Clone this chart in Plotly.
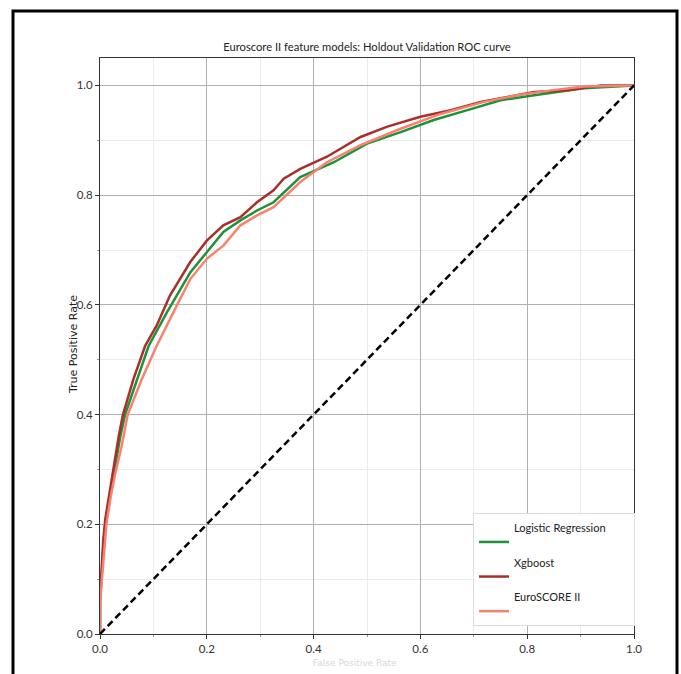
import plotly.graph_objects as go

# ---- data ----
lr_fpr = [0.0, 0.0, 0.002, 0.007, 0.011, 0.02, 0.027, 0.038, 0.047, 0.069, 0.091, 0.125, 0.169, 0.2, 0.231, 0.263,
          0.294, 0.325, 0.375, 0.438, 0.5, 0.563, 0.625, 0.688, 0.75, 0.813, 0.906, 1.0]
lr_tpr = [0.0, 0.06, 0.09, 0.17, 0.21, 0.26, 0.3, 0.36, 0.4, 0.464, 0.525, 0.586, 0.659, 0.696, 0.733, 0.754,
          0.772, 0.787, 0.833, 0.86, 0.894, 0.915, 0.937, 0.955, 0.973, 0.982, 0.995, 1.0]

xgb_fpr = [0.0, 0.0, 0.002, 0.006, 0.01, 0.018, 0.025, 0.035, 0.043, 0.0625, 0.0844, 0.106, 0.131, 0.169, 0.2, 0.231,
           0.263, 0.294, 0.325, 0.344, 0.375, 0.425, 0.488, 0.538, 0.6, 0.657, 0.713, 0.763, 0.813, 0.875, 0.938, 1.0]
xgb_tpr = [0.0, 0.07, 0.1, 0.17, 0.21, 0.26, 0.3, 0.36, 0.4, 0.464, 0.525, 0.562, 0.617, 0.678, 0.717, 0.745,
           0.76, 0.787, 0.809, 0.83, 0.848, 0.87, 0.906, 0.925, 0.943, 0.955, 0.97, 0.979, 0.988, 0.991, 1.0, 1.0]

es_fpr = [0.0, 0.0, 0.002, 0.008, 0.012, 0.02, 0.028, 0.04, 0.052, 0.078, 0.106, 0.144, 0.169, 0.2, 0.231, 0.263,
          0.294, 0.325, 0.375, 0.425, 0.488, 0.563, 0.638, 0.719, 0.781, 0.844, 0.906, 1.0]
es_tpr = [0.0, 0.05, 0.08, 0.16, 0.2, 0.25, 0.29, 0.34, 0.4, 0.464, 0.525, 0.599, 0.647, 0.684, 0.708, 0.745,
          0.763, 0.778, 0.824, 0.86, 0.891, 0.921, 0.948, 0.97, 0.982, 0.991, 0.998, 1.0]

diag = [0.0, 1.0]

series_names = ["Logistic Regression", "Xgboost", "EuroSCORE II"]
ticks = [0.0, 0.2, 0.4, 0.6, 0.8, 1.0]
tick_text = ["0.0", "0.2", "0.4", "0.6", "0.8", "1.0"]

COND = "Lato, Roboto, Liberation Sans, sans-serif"
NB = "\u00a0"
pads = [6, 24, 17]

fig = go.Figure()
colors = ["#1f9138", "#a8302b", "#f7826f"]
for i, (fx, ty) in enumerate([(lr_fpr, lr_tpr), (xgb_fpr, xgb_tpr), (es_fpr, es_tpr)]):
    fig.add_trace(go.Scatter(x=fx, y=ty, mode="lines", name=series_names[i] + NB * pads[i] + "<br> ",
                             legendgroup=str(i),
                             line=dict(color=colors[i], width=2.5)))
fig.add_trace(go.Scatter(x=diag, y=diag, mode="lines", showlegend=False,
                         line=dict(color="black", width=2.5, dash="7px,4px")))

axis_common = dict(
    tickvals=ticks, ticktext=tick_text, ticks="outside", ticklen=4, tickcolor="#333",
    showline=True, linecolor="#333", linewidth=1, mirror=True,
    showgrid=True, gridcolor="#b0b0b0", gridwidth=1.4, zeroline=False,
    tickfont=dict(family=COND, size=11.5, color="#333"),
    minor=dict(tickvals=[0.1, 0.3, 0.5, 0.7, 0.9], showgrid=True, gridcolor="#ebebeb",
               gridwidth=1, ticks="outside", ticklen=2, tickcolor="#999"),
)
fig.update_xaxes(range=[0, 1], **axis_common)
fig.update_yaxes(range=[0, 1.05], **axis_common)

fig.update_layout(
    width=681, height=674,
    margin=dict(l=100, r=47, t=58, b=40),
    paper_bgcolor="white", plot_bgcolor="white",
    title=dict(text="Euroscore II feature models: Holdout Validation ROC curve",
               x=(367) / 681, xanchor="center", y=1 - 47 / 674, yanchor="middle",
               font=dict(family=COND, size=11.2, color="#222")),
    legend=dict(x=0.6985, y=(634 - 513) / 576, xanchor="left", yanchor="top",
                bgcolor="white", bordercolor="#dddddd", borderwidth=1,
                font=dict(family=COND, size=11, color="#222"),
                valign="bottom", tracegroupgap=3, itemwidth=30),
    showlegend=True,
)

fig.add_annotation(text="True Positive Rate", xref="paper", yref="paper",
                   x=(73 - 100) / 534, y=(634 - 345) / 576, textangle=-90,
                   showarrow=False, xanchor="center", yanchor="middle",
                   font=dict(family="DejaVu Sans", size=11, color="#222"))
fig.add_annotation(text="False Positive Rate", xref="paper", yref="paper",
                   x=(355 - 100) / 534, y=(634 - 663) / 576,
                   showarrow=False, xanchor="center", yanchor="middle",
                   font=dict(family="DejaVu Sans", size=9, color="#d8d8d8"))

# outer black frame of the figure
fig.add_shape(type="rect", xref="paper", yref="paper",
              x0=(13 - 100) / 534, x1=(677 - 100) / 534,
              y0=(634 - 690) / 576, y1=(634 - 11) / 576,
              line=dict(color="black", width=3), layer="above")

fig.write_html("out.html", config={"displayModeBar": False},
               post_script="document.body.style.margin='0';")
